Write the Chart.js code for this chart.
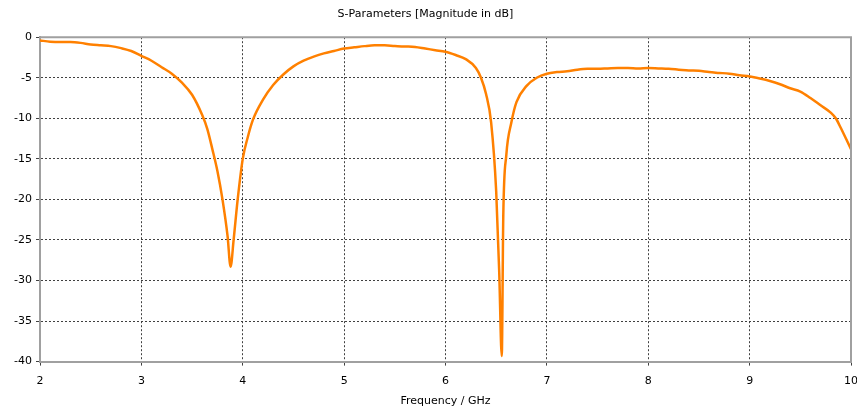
<!DOCTYPE html>
<html>
<head>
<meta charset="utf-8">
<script src="https://cdn.jsdelivr.net/npm/chart.js@4/dist/chart.umd.min.js"></script>
<style>
  html, body { margin: 0; padding: 0; background: #fff; }
  #wrap { width: 857px; height: 408px; }
</style>
</head>
<body>
<div id="wrap"><canvas id="sparam"></canvas></div>
<script>
// frequency in GHz, S11 in dB
var freq = [
  2.0, 2.1, 2.2, 2.3, 2.4, 2.5, 2.6, 2.7, 2.8, 2.9,
  3.0, 3.1, 3.2, 3.3, 3.4, 3.5, 3.6, 3.65, 3.7, 3.75,
  3.8, 3.85, 3.88, 3.91, 3.95, 4.0, 4.05, 4.1, 4.2, 4.3,
  4.4, 4.5, 4.6, 4.7, 4.8, 4.9, 5.0, 5.1, 5.2, 5.3,
  5.4, 5.5, 5.6, 5.7, 5.8, 5.9, 6.0, 6.1, 6.2, 6.3,
  6.35, 6.4, 6.45, 6.5, 6.53, 6.555, 6.57, 6.6, 6.65, 6.7,
  6.8, 6.9, 7.0, 7.1, 7.2, 7.3, 7.4, 7.5, 7.6, 7.7,
  7.8, 7.9, 8.0, 8.1, 8.2, 8.3, 8.4, 8.5, 8.6, 8.7,
  8.8, 8.9, 9.0, 9.1, 9.2, 9.3, 9.4, 9.5, 9.6, 9.7,
  9.8, 9.85, 9.9, 9.95, 10.0
];
var s11 = [
  -0.4, -0.55, -0.6, -0.6, -0.7, -0.9, -1.0, -1.1, -1.35, -1.7,
  -2.3, -2.9, -3.7, -4.5, -5.6, -7.1, -9.6, -11.3, -13.8, -16.5,
  -20, -24.5, -28.3, -25, -20, -15, -12.3, -10.2, -7.7, -5.9,
  -4.6, -3.6, -2.9, -2.4, -2.0, -1.7, -1.4, -1.25, -1.1, -1.0,
  -1.0, -1.1, -1.15, -1.2, -1.4, -1.6, -1.8, -2.2, -2.7, -3.8,
  -5.0, -7.0, -10.5, -19, -29, -39.3, -22, -14.5, -10.5, -8.0,
  -6.0, -5.0, -4.5, -4.3, -4.2, -4.0, -3.9, -3.9, -3.85, -3.8,
  -3.8, -3.85, -3.8, -3.85, -3.9, -4.0, -4.1, -4.15, -4.3, -4.4,
  -4.5, -4.7, -4.85, -5.1, -5.4, -5.8, -6.3, -6.7, -7.5, -8.4,
  -9.3, -10, -11.2, -12.5, -13.8
];
var xTicks = [2, 3, 4, 5, 6, 7, 8, 9, 10];
var yTicks = [0, -5, -10, -15, -20, -25, -30, -35, -40];

var FONT = { family: '"DejaVu Sans", Verdana, sans-serif', size: 11, weight: 'normal' };
var FRAME = '#a0a0a0';
var GRID = '#404040';

var points = freq.map(function(f, i) { return { x: f, y: s11[i] }; });

// grey box round the plot area (top and right edges)
var frameBox = {
  id: 'frameBox',
  afterDatasetsDraw: function(chart) {
    var a = chart.chartArea, c = chart.ctx;
    c.save();
    c.strokeStyle = FRAME;
    c.lineWidth = 2;
    c.beginPath();
    c.moveTo(a.left, a.top);
    c.lineTo(a.right, a.top);
    c.lineTo(a.right, a.bottom);
    c.stroke();
    c.restore();
  }
};

new Chart(document.getElementById('sparam'), {
  type: 'line',
  data: {
    datasets: [{
      data: points,
      borderColor: '#ff8000',
      borderWidth: 2.5,
      pointRadius: 0,
      fill: false,
      cubicInterpolationMode: 'monotone'
    }]
  },
  plugins: [frameBox],
  options: {
    responsive: true,
    maintainAspectRatio: false,
    animation: false,
    layout: { padding: { left: 0, right: 6, top: 0, bottom: 0 } },
    plugins: {
      legend: { display: false },
      tooltip: { enabled: false },
      title: {
        display: true,
        text: 'S-Parameters [Magnitude in dB]',
        color: '#000',
        font: FONT,
        padding: { top: 8, bottom: 16 }
      }
    },
    scales: {
      x: {
        type: 'linear',
        min: 2,
        max: 10,
        afterBuildTicks: function(s) { s.ticks = xTicks.map(function(v) { return { value: v }; }); },
        afterFit: function(s) { s.paddingRight = 0; },
        ticks: { color: '#000', font: FONT, padding: 9, maxRotation: 0 },
        grid: { color: GRID, lineWidth: 1, tickLength: 4, tickColor: GRID, tickBorderDash: [] },
        border: { display: true, color: FRAME, width: 2, dash: [2, 2] },
        title: { display: true, text: 'Frequency / GHz', color: '#000', font: FONT, padding: { top: -2, bottom: 0 } }
      },
      y: {
        min: -40,
        max: 0,
        afterBuildTicks: function(s) { s.ticks = yTicks.map(function(v) { return { value: v }; }); },
        afterFit: function(s) { s.width = 40; },
        ticks: { color: '#000', font: FONT, padding: 4 },
        grid: { color: GRID, lineWidth: 1, tickLength: 4, tickColor: GRID, tickBorderDash: [] },
        border: { display: true, color: FRAME, width: 2, dash: [2, 2] }
      }
    }
  }
});
</script>
</body>
</html>
